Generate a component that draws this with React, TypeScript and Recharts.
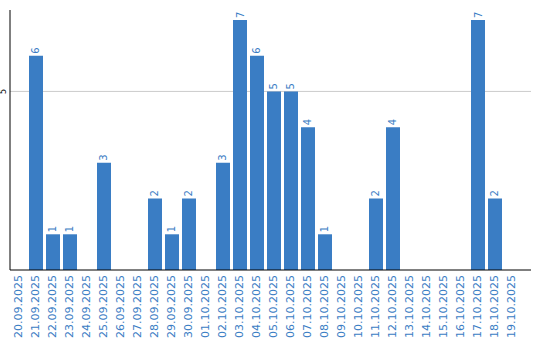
import { Bar, BarChart, LabelList, ReferenceLine, XAxis, YAxis } from "recharts";

const dates = [
  "20.09.2025", "21.09.2025", "22.09.2025", "23.09.2025", "24.09.2025",
  "25.09.2025", "26.09.2025", "27.09.2025", "28.09.2025", "29.09.2025",
  "30.09.2025", "01.10.2025", "02.10.2025", "03.10.2025", "04.10.2025",
  "05.10.2025", "06.10.2025", "07.10.2025", "08.10.2025", "09.10.2025",
  "10.10.2025", "11.10.2025", "12.10.2025", "13.10.2025", "14.10.2025",
  "15.10.2025", "16.10.2025", "17.10.2025", "18.10.2025", "19.10.2025",
];
const counts = [
  0, 6, 1, 1, 0, 3, 0, 0, 2, 1, 2, 0, 3, 7, 6, 5, 5, 4, 1, 0, 0, 2, 4, 0, 0,
  0, 0, 7, 2, 0,
];
const yTicks = [5];

const data = dates.map((d, i) => ({ date: d, count: counts[i] }));

const BLUE = "#3a7dc4";
const FONT = "'DejaVu Sans', Verdana, sans-serif";

function DateTick(props: any) {
  const { x, y, payload } = props;
  return (
    <text
      x={x}
      y={y}
      transform={`rotate(-90 ${x} ${y})`}
      textAnchor="end"
      dominantBaseline="central"
      fill={BLUE}
      fontSize={11}
      fontFamily={FONT}
    >
      {payload.value}
    </text>
  );
}

function ValueTick(props: any) {
  const { y, payload } = props;
  return (
    <text
      x={4}
      y={y}
      transform={`rotate(-90 4 ${y})`}
      textAnchor="middle"
      dominantBaseline="central"
      fill="#000"
      fontSize={8}
      fontFamily={FONT}
    >
      {payload.value}
    </text>
  );
}

function BarLabel(props: any) {
  const { x, y, width, value } = props;
  if (!value) return null;
  const cx = x + width / 2;
  const cy = y - 2;
  return (
    <text
      x={cx}
      y={cy}
      transform={`rotate(-90 ${cx} ${cy})`}
      textAnchor="start"
      dominantBaseline="central"
      fill={BLUE}
      fontSize={10}
      fontFamily={FONT}
    >
      {value}
    </text>
  );
}

export default function App() {
  const refLineProps: any = { zIndex: -100 };
  return (
    <div style={{ position: "absolute", left: 0, top: 0, background: "#fff" }}>
      <BarChart
        width={540}
        height={340}
        data={data}
        margin={{ top: 10, right: 9, left: 0, bottom: 0 }}
        barSize={14}
      >
        {yTicks.map((t) => (
          <ReferenceLine key={t} y={t} stroke="#cccccc" {...refLineProps} />
        ))}
        <XAxis
          dataKey="date"
          interval={0}
          height={70}
          tick={<DateTick />}
          tickLine={false}
          tickSize={0}
          tickMargin={5}
          padding={{ left: 0, right: 11 }}
          axisLine={{ stroke: "#000" }}
        />
        <YAxis
          width={10}
          domain={[0, 7.28]}
          ticks={yTicks}
          tick={<ValueTick />}
          tickLine={false}
          axisLine={{ stroke: "#000" }}
        />
        <Bar dataKey="count" fill={BLUE} isAnimationActive={false}>
          <LabelList dataKey="count" content={<BarLabel />} />
        </Bar>
      </BarChart>
    </div>
  );
}
